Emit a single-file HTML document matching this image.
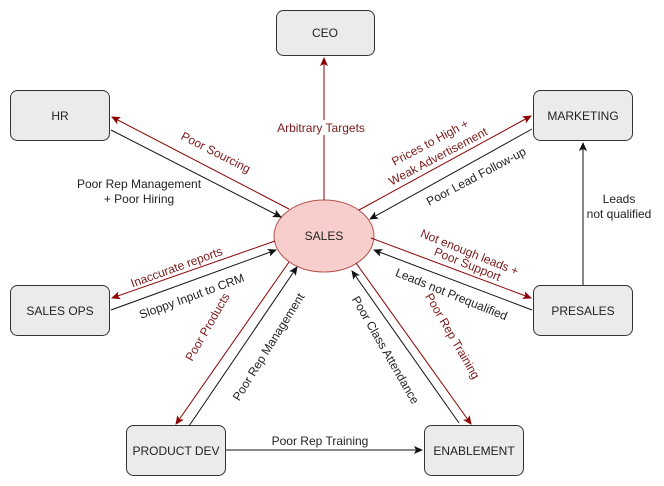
<!DOCTYPE html>
<html><head><meta charset="utf-8"><style>
html,body{margin:0;padding:0;background:#fff;}
svg{display:block;font-family:"Liberation Sans",sans-serif;font-size:12px;}
.r{fill:#7a1a1a;}
.k{fill:#222;}
</style></head><body>
<svg width="664" height="486" viewBox="0 0 664 486" xmlns="http://www.w3.org/2000/svg">
<defs>
<marker id="ar" markerWidth="10" markerHeight="10" refX="8" refY="4" orient="auto" markerUnits="userSpaceOnUse"><path d="M0,0 L9,4 L0,8 L2,4 z" fill="#8b0000"/></marker>
<marker id="ak" markerWidth="10" markerHeight="10" refX="8" refY="4" orient="auto" markerUnits="userSpaceOnUse"><path d="M0,0 L9,4 L0,8 L2,4 z" fill="#111"/></marker>
</defs>
<g fill="#ebebeb" stroke="#333" stroke-width="1">
<rect x="276.5" y="10.5" width="98" height="45" rx="7"/>
<rect x="10.5" y="90.5" width="99" height="50" rx="7"/>
<rect x="533.5" y="90.5" width="99" height="50" rx="7"/>
<rect x="10.5" y="285.5" width="99" height="50" rx="7"/>
<rect x="533.5" y="285.5" width="99" height="50" rx="7"/>
<rect x="126.5" y="425.5" width="99" height="50" rx="7"/>
<rect x="424.5" y="425.5" width="99" height="50" rx="7"/>
</g>
<ellipse cx="324" cy="236" rx="50" ry="36" fill="#f8cecc" stroke="#b85450"/>
<g stroke-width="1" fill="none">
<line x1="324" y1="200" x2="324" y2="58" stroke="#8b0000" marker-end="url(#ar)"/>
<line x1="289" y1="209" x2="112" y2="117" stroke="#8b0000" marker-end="url(#ar)"/>
<line x1="111" y1="130" x2="281" y2="217" stroke="#111" marker-end="url(#ak)"/>
<line x1="359" y1="210" x2="531" y2="116" stroke="#8b0000" marker-end="url(#ar)"/>
<line x1="532" y1="129" x2="370" y2="219" stroke="#111" marker-end="url(#ak)"/>
<line x1="583" y1="285" x2="583" y2="143" stroke="#111" marker-end="url(#ak)"/>
<line x1="275" y1="241" x2="112" y2="298" stroke="#8b0000" marker-end="url(#ar)"/>
<line x1="111" y1="310" x2="276" y2="250" stroke="#111" marker-end="url(#ak)"/>
<line x1="371" y1="238" x2="531" y2="298" stroke="#8b0000" marker-end="url(#ar)"/>
<line x1="532" y1="310" x2="374" y2="250" stroke="#111" marker-end="url(#ak)"/>
<line x1="289" y1="262" x2="176" y2="424" stroke="#8b0000" marker-end="url(#ar)"/>
<line x1="189" y1="426" x2="297" y2="267" stroke="#111" marker-end="url(#ak)"/>
<line x1="356" y1="263" x2="471" y2="424" stroke="#8b0000" marker-end="url(#ar)"/>
<line x1="459" y1="423" x2="352" y2="271" stroke="#111" marker-end="url(#ak)"/>
<line x1="226" y1="450" x2="422" y2="450" stroke="#111" marker-end="url(#ak)"/>
</g>
<g text-anchor="middle">
<text x="325" y="37" class="k">CEO</text>
<text x="60" y="120" class="k">HR</text>
<text x="583" y="120" class="k">MARKETING</text>
<text x="60" y="315" class="k">SALES OPS</text>
<text x="583" y="315" class="k">PRESALES</text>
<text x="176" y="455" class="k">PRODUCT DEV</text>
<text x="474" y="455" class="k">ENABLEMENT</text>
<text x="324" y="240" class="k">SALES</text>
<rect x="273" y="120" width="96" height="15" fill="#fff"/>
<text x="321" y="132" class="r">Arbitrary Targets</text>
<text x="139" y="188" class="k">Poor Rep Management</text>
<text x="139" y="203" class="k">+ Poor Hiring</text>
<text x="619" y="203" class="k">Leads</text>
<text x="619" y="218" class="k">not qualified</text>
<text x="320" y="445" class="k">Poor Rep Training</text>
<text transform="translate(214,156) rotate(27)" class="r">Poor Sourcing</text>
<text transform="translate(432,146) rotate(-28)" class="r">Prices to High +</text>
<text transform="translate(440,160) rotate(-28)" class="r">Weak Advertisement</text>
<text transform="translate(478,180) rotate(-28)" class="k">Poor Lead Follow-up</text>
<text transform="translate(178,271) rotate(-20)" class="r">Inaccurate reports</text>
<text transform="translate(193,300) rotate(-20)" class="k">Sloppy Input to CRM</text>
<text transform="translate(468,256) rotate(22)" class="r">Not enough leads +</text>
<text transform="translate(466,268) rotate(22)" class="r">Poor Support</text>
<text transform="translate(450,298) rotate(22)" class="k">Leads not Prequalified</text>
<text transform="translate(211,329) rotate(-60)" class="r">Poor Products</text>
<text transform="translate(272,349) rotate(-58)" class="k">Poor Rep Management</text>
<text transform="translate(382,352) rotate(60)" class="k">Poor Class Attendance</text>
<text transform="translate(449,338) rotate(60)" class="r">Poor Rep Training</text>
</g>
</svg>
</body></html>
